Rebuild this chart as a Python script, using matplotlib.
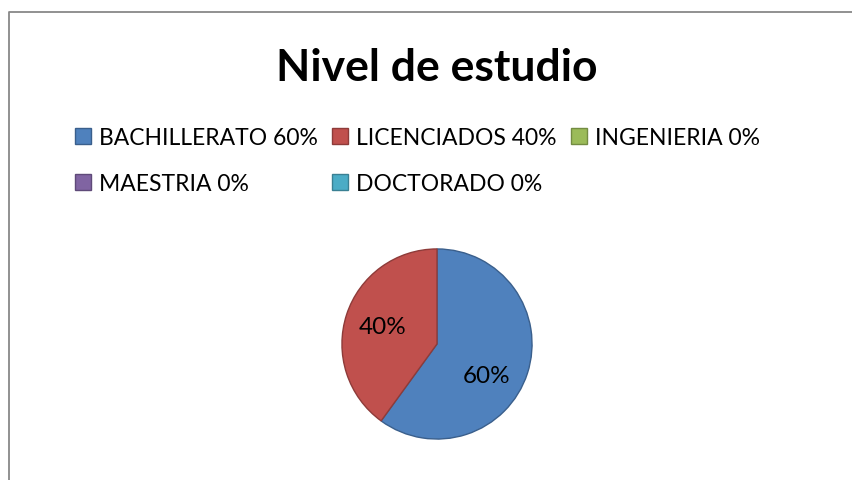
import matplotlib
matplotlib.use('Agg')
import matplotlib.pyplot as plt
from matplotlib.patches import Rectangle
from matplotlib.lines import Line2D

# Data
categories = ['BACHILLERATO', 'LICENCIADOS', 'INGENIERIA', 'MAESTRIA', 'DOCTORADO']
values = [60, 40, 0, 0, 0]
colors = ['#4F81BD', '#C0504D', '#9BBB59', '#8064A2', '#4BACC6']
edges = ['#3A5F8C', '#8E3B39', '#738C42', '#5F4A79', '#3A8093']

plt.rcParams['font.family'] = ['Lato', 'DejaVu Sans']

W, H = 852, 481
fig = plt.figure(figsize=(W / 100, H / 100), dpi=100)
fig.patch.set_facecolor('white')

# chart area border (only left and top visible)
fig.add_artist(Line2D([9 / W, 9 / W, 1], [0, 1 - 13 / H, 1 - 13 / H],
                      transform=fig.transFigure, color='#888888', lw=1.3))

fig.text(437 / W, 1 - 68 / H, 'Nivel de estudio', ha='center', va='center',
         fontsize=32, fontweight='bold')

# pie
cx, cy, r = 437, 345, 96
ax = fig.add_axes([(cx - r) / W, (H - cy - r) / H, 2 * r / W, 2 * r / H])
nz = [i for i, v in enumerate(values) if v > 0]
wedges, texts, autotexts = ax.pie(
    [values[i] for i in nz], colors=[colors[i] for i in nz],
    startangle=90, counterclock=False, radius=1,
    autopct='%1.0f%%', pctdistance=0.6,
    textprops={'fontsize': 17.5, 'color': 'black'},
    wedgeprops={'linewidth': 1.0})
for w, i in zip(wedges, nz):
    w.set_edgecolor(edges[i])
# Excel puts the big slice's label a bit lower
autotexts[0].set_position((0.52, -0.33))
ax.set_xlim(-1.01, 1.01)
ax.set_ylim(-1.01, 1.01)

# legend
handles = [Rectangle((0, 0), 1, 1, facecolor=c, edgecolor=e, lw=1.0)
           for c, e in zip(colors, edges)]
labels = ['%s %d%%' % (c, v) for c, v in zip(categories, values)]
order = [0, 3, 1, 4, 2]
fig.legend([handles[i] for i in order], [labels[i] for i in order],
           ncol=3, loc='upper left', bbox_to_anchor=(75 / W, 1 - 128 / H),
           frameon=False, fontsize=16.5, handlelength=0.7, handleheight=0.7,
           handletextpad=0.35, columnspacing=0.62, labelspacing=1.1,
           borderpad=0, borderaxespad=0)

fig.savefig('out.png', dpi=100)
